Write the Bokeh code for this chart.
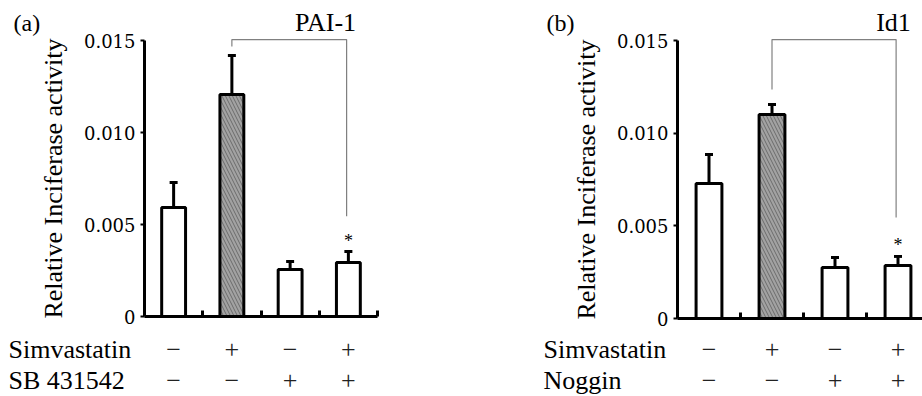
from bokeh.plotting import figure
from bokeh.layouts import row
from bokeh.models import FixedTicker, Range1d, ColumnDataSource
from bokeh.core.properties import value
from bokeh.embed import file_html
from bokeh.resources import INLINE

# ---- data ----
conditions = [1, 2, 3, 4]
signs_simva = ["−", "+", "−", "+"]
signs_sb = ["−", "−", "+", "+"]
signs_noggin = ["−", "−", "+", "+"]

pai1_mean = [0.00592, 0.01207, 0.00255, 0.00293]
pai1_err_top = [0.00728, 0.01418, 0.00299, 0.00353]

id1_mean = [0.00728, 0.01101, 0.00275, 0.00286]
id1_err_top = [0.00885, 0.01155, 0.00329, 0.00335]

y_ticks = [0, 0.005, 0.010, 0.015]
y_tick_labels = ["0", "0.005", "0.010", "0.015"]

SERIF = "'Liberation Serif'"
NUM = "'DejaVu Serif'"
W, H = 461, 396
ROW1_PX, ROW2_PX = 349, 380   # page rows of the treatment table


def panel(means, err_tops, row2_signs, x0, pxx, pxy, y0px,
          bracket_left_low, star_y):
    xr = (x0, x0 + W / pxx)
    yr = (-(H - y0px) / pxy, y0px / pxy)
    p = figure(width=W, height=H, output_backend="svg", toolbar_location=None,
               x_range=Range1d(*xr), y_range=Range1d(*yr), min_border=0,
               outline_line_color=None, tools="")
    p.grid.visible = False

    # axes
    p.xaxis.fixed_location = 0
    p.xaxis.bounds = (0.5, 4.5)
    p.xaxis.ticker = FixedTicker(ticks=[1.5, 2.5, 3.5, 4.5])
    p.xaxis.major_label_overrides = {1.5: "", 2.5: "", 3.5: "", 4.5: ""}
    p.xaxis.major_tick_in = 6
    p.xaxis.major_tick_out = 0
    p.xaxis.minor_tick_line_color = None
    p.xaxis.axis_line_width = 3
    p.xaxis.major_tick_line_width = 3

    p.yaxis.fixed_location = 0.5
    p.yaxis.bounds = (0, 0.015)
    p.yaxis.ticker = FixedTicker(ticks=y_ticks)
    p.yaxis.major_label_overrides = dict(zip(y_ticks, y_tick_labels))
    p.yaxis.major_tick_in = 0
    p.yaxis.major_tick_out = 4
    p.yaxis.minor_tick_line_color = None
    p.yaxis.axis_line_width = 3
    p.yaxis.major_tick_line_width = 2
    p.yaxis.major_label_text_font = NUM
    p.yaxis.major_label_text_font_size = "18px"
    p.yaxis.major_label_text_color = "black"
    p.yaxis.major_label_standoff = 5
    p.yaxis.axis_label = "Relative Inciferase activity"
    p.yaxis.axis_label_text_font = SERIF
    p.yaxis.axis_label_text_font_size = "26px"
    p.yaxis.axis_label_text_font_style = "normal"
    p.yaxis.axis_label_text_color = "black"
    p.yaxis.axis_label_standoff = 13

    fills = ["white", "#a2a2a2", "white", "white"]
    hatches = [" ", "left_diagonal_line", " ", " "]
    src = ColumnDataSource(dict(x=conditions, top=means, err=err_tops,
                                fill=fills, hatch=hatches))

    # error bars (upper only)
    p.segment(x0="x", y0="top", x1="x", y1="err", source=src,
              line_color="black", line_width=3)
    p.scatter(x="x", y="err", source=src, marker="dash", size=8,
              line_color="black", line_width=3)
    p.vbar(x="x", top="top", width=0.41, bottom=0, source=src,
           fill_color="fill", line_color="black", line_width=3,
           hatch_pattern="hatch", hatch_color="#333333", hatch_alpha=0.5,
           hatch_scale=7, hatch_weight=1)

    # significance bracket
    top_b = y_ticks[-1] + 0.00005
    p.line(x=[2, 2, 3.97, 3.97], y=[bracket_left_low, top_b, top_b, 0.00545],
           line_color="#808080", line_width=1.2)
    p.text(x=[4], y=[star_y], text=["*"], text_align="center",
           text_baseline="middle", text_font=value(SERIF),
           text_font_size="18px", text_color="black")

    # treatment rows
    y_row1 = -(ROW1_PX - y0px) / pxy
    y_row2 = -(ROW2_PX - y0px) / pxy
    for yy, signs in ((y_row1, signs_simva), (y_row2, row2_signs)):
        p.text(x=conditions, y=[yy] * 4, text=signs, text_align="center",
               text_baseline="middle", text_font=value(SERIF),
               text_font_size="26px", text_color="#222222")
    return p, y_row1, y_row2


# panel (a)
pxa_x = 58.25
pxa_y = 276 / 0.015
xa0 = 0.5 - 144 / pxa_x
pa, ya1, ya2 = panel(pai1_mean, pai1_err_top, signs_sb, xa0, pxa_x, pxa_y, 316,
                     0.01467, 0.00413)
pa.text(x=[xa0 + 8 / pxa_x] * 2, y=[ya1, ya2],
        text=["Simvastatin", "SB 431542"], text_align="left", text_baseline="middle",
        text_font=value(SERIF), text_font_size="26px", text_color="black")
pa.text(x=[xa0 + 13 / pxa_x], y=[0.015 + 18 / pxa_y], text=["(a)"], text_align="left",
        text_baseline="middle", text_font=value(SERIF), text_font_size="24px",
        text_color="black")
pa.text(x=[0.5 + 181 / pxa_x], y=[0.015 + 18 / pxa_y], text=["PAI-1"],
        text_align="center", text_baseline="middle", text_font=value(SERIF),
        text_font_size="26px", text_color="black")

# panel (b)
pxb_x = 63.0
pxb_y = 278 / 0.015
xb0 = 0.5 - 216 / pxb_x
pb, yb1, yb2 = panel(id1_mean, id1_err_top, signs_noggin, xb0, pxb_x, pxb_y, 318,
                     0.01236, 0.00394)
pb.text(x=[0.5 - 134 / pxb_x] * 2, y=[yb1, yb2],
        text=["Simvastatin", "Noggin"], text_align="left", text_baseline="middle",
        text_font=value(SERIF), text_font_size="26px", text_color="black")
pb.text(x=[0.5 - 131 / pxb_x], y=[0.015 + 18 / pxb_y], text=["(b)"], text_align="left",
        text_baseline="middle", text_font=value(SERIF), text_font_size="24px",
        text_color="black")
pb.text(x=[0.5 + 216 / pxb_x], y=[0.015 + 18 / pxb_y], text=["Id1"],
        text_align="center", text_baseline="middle", text_font=value(SERIF),
        text_font_size="26px", text_color="black")

layout = row(pa, pb)
open("out.html", "w").write(file_html(layout, INLINE))
